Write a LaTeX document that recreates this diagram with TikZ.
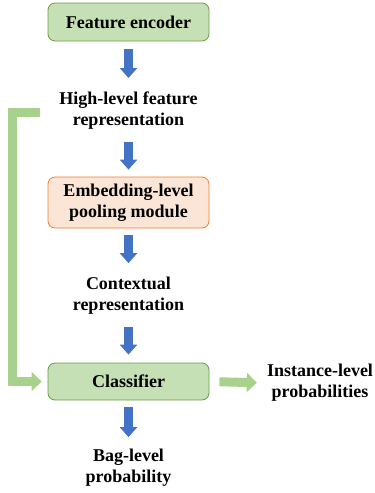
\documentclass[tikz,border=0pt]{standalone}
\usepackage{fontspec}
\setmainfont{Liberation Serif}
\usetikzlibrary{arrows.meta,positioning}

\definecolor{boxgreen}{HTML}{C5E0B4}
\definecolor{edgegreen}{HTML}{6A9A48}
\definecolor{boxorange}{HTML}{FBE5D6}
\definecolor{edgeorange}{HTML}{ED7D31}
\definecolor{arrblue}{HTML}{4472C4}
\definecolor{arrgreen}{HTML}{A9D18E}

\begin{document}
\begin{tikzpicture}[x=1pt,y=-1pt,
    every node/.style={font=\fontsize{18}{21}\selectfont\bfseries,align=center},
    module/.style={draw=edgegreen,fill=boxgreen,rounded corners=7pt,line width=0.8pt,minimum width=161pt,inner sep=0pt},
    txt/.style={inner sep=0pt},
    blk/.style={line width=9pt,color=arrblue,-{Triangle[width=17pt,length=10pt]}},
    fat/.style={line width=9pt,color=arrgreen,line join=miter,-{Triangle[width=19pt,length=10pt]}}]
  \useasboundingbox (0,0) rectangle (375,493);

  \node[module,minimum height=38pt] (enc) at (128.5,22) {Feature encoder};
  \node[txt] (hl) at (128.5,111) {High-level feature\\representation};
  \node[module,draw=edgeorange,fill=boxorange,minimum height=51pt] (emb) at (128.5,202.5) {Embedding-level\\pooling module};
  \node[txt] (ctx) at (128.5,296) {Contextual\\representation};
  \node[module,minimum height=37pt] (cls) at (128.5,381.5) {Classifier};
  \node[txt] (bag) at (128.5,468) {Bag-level\\probability};
  \node[txt] (inst) at (320,383) {Instance-level\\probabilities};

  % main pipeline
  \draw[blk] ([yshift=-8pt]enc.south) -- ([yshift=14pt]hl.north);
  \draw[blk] ([yshift=-12pt]hl.south) -- ([yshift=7pt]emb.north);
  \draw[blk] ([yshift=-7pt]emb.south) -- ([yshift=14pt]ctx.north);
  \draw[blk] ([yshift=-12pt]ctx.south) -- ([yshift=8pt]cls.north);
  \draw[blk] ([yshift=-7pt]cls.south) -- ([yshift=12pt]bag.north);

  % skip connection and instance output
  \coordinate (skip) at (40,112);
  \draw[fat,shorten >=6pt] (skip) -- (12.5,112) |- (cls.west);
  \draw[fat,shorten <=10pt,shorten >=10pt] (cls.east) -- (inst.west);
\end{tikzpicture}
\end{document}
